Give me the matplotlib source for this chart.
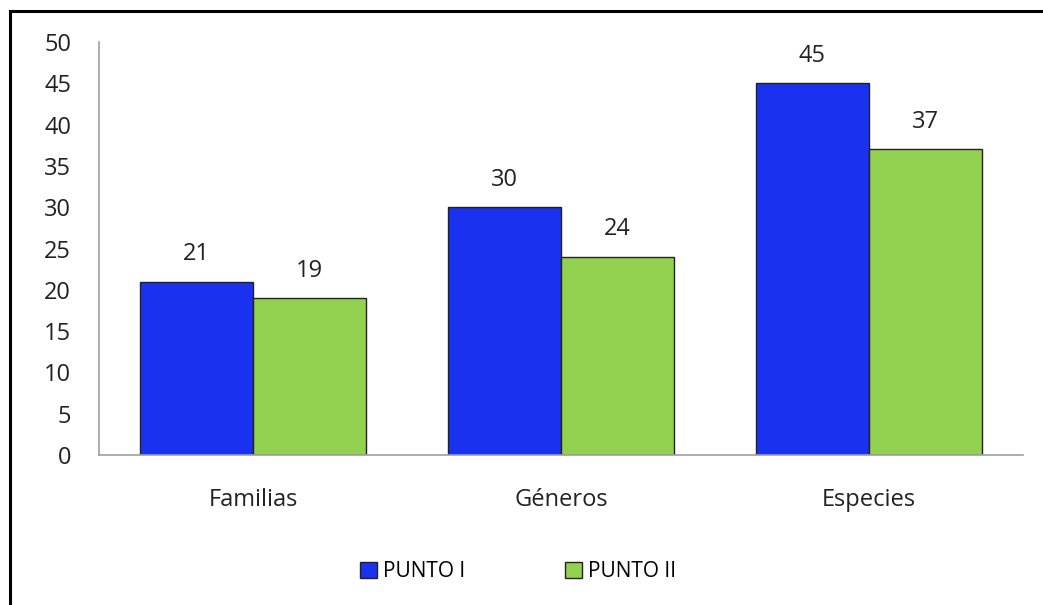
import matplotlib.pyplot as plt
import numpy as np
from matplotlib.patches import Rectangle

plt.rcParams['font.family'] = ['Open Sans', 'DejaVu Sans']

categorias = ['Familias', 'Géneros', 'Especies']
punto_1 = [21, 30, 45]
punto_2 = [19, 24, 37]

fig = plt.figure(figsize=(10.43, 6.05), dpi=100)
ax = fig.add_axes([0.0949, 0.2479, 0.8859, 0.6827])

x = np.arange(len(categorias))
w = 0.367
b1 = ax.bar(x - w / 2, punto_1, w, color='#1A32F0', edgecolor='#222222', linewidth=1, label='PUNTO I')
b2 = ax.bar(x + w / 2, punto_2, w, color='#92D050', edgecolor='#222222', linewidth=1, label='PUNTO II')

for bars in (b1, b2):
    ax.bar_label(bars, padding=11, fontsize=17, color='#222222')

ax.set_xlim(-0.5, 2.5)
ax.set_ylim(0, 50)
ax.set_yticks(range(0, 51, 5))
ax.set_xticks(x)
ax.set_xticklabels(categorias)
ax.tick_params(axis='both', length=0, labelsize=17, colors='#222222')
ax.tick_params(axis='y', pad=20)
ax.tick_params(axis='x', pad=24)

for s in ('top', 'right'):
    ax.spines[s].set_visible(False)
for s in ('left', 'bottom'):
    ax.spines[s].set_color('#A0A0A0')
    ax.spines[s].set_linewidth(1.2)

fig.legend(loc='center', bbox_to_anchor=(0.497, 0.055), ncol=2, frameon=False,
           fontsize=15, handlelength=0.8, handleheight=0.8, handletextpad=0.3,
           columnspacing=4.8)

# outer frame around the chart area
fig.patches.append(Rectangle((10 / 1043, -0.1), 1.2, 1 - 11 / 605 + 0.1,
                             transform=fig.transFigure, fill=False,
                             edgecolor='black', linewidth=2.2))

fig.savefig('out.png', dpi=100)
